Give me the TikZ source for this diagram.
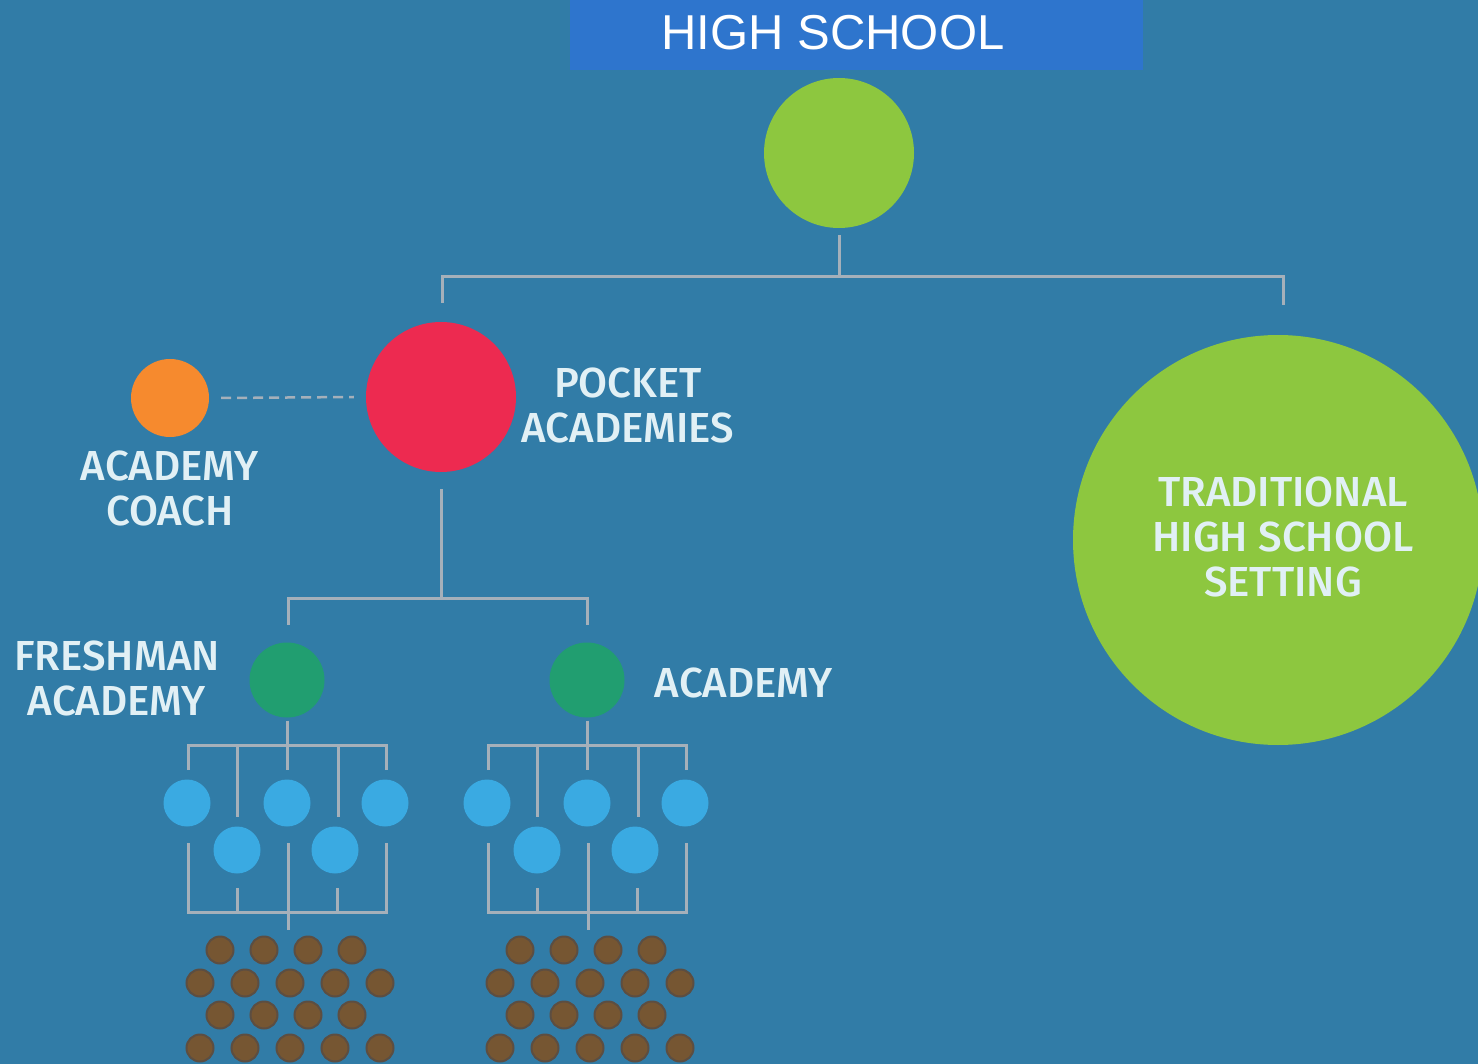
\documentclass[tikz,border=0pt]{standalone}
\usepackage{fontspec}
\setmainfont{Liberation Sans}
\newfontfamily\labfont{Fira Sans Medium}
\definecolor{bg}{RGB}{49,124,167}
\definecolor{banner}{RGB}{46,117,205}
\definecolor{lgreen}{RGB}{141,199,63}
\definecolor{pred}{RGB}{237,42,80}
\definecolor{corange}{RGB}{246,138,46}
\definecolor{teal}{RGB}{33,158,112}
\definecolor{sblue}{RGB}{58,170,226}
\definecolor{brownfill}{RGB}{118,86,50}
\definecolor{brownedge}{RGB}{92,78,66}
\definecolor{linec}{RGB}{165,176,186}
\definecolor{labc}{RGB}{225,240,245}
\tikzset{
  conn/.style={draw=linec, line width=3pt},
  dot/.style={circle, inner sep=0pt, draw=none, minimum size=#1},
  lab/.style={text=labc, align=center, inner sep=0pt, font=\labfont\fontsize{42}{45}\selectfont},
  student/.style={circle, inner sep=0pt, minimum size=27pt, fill=brownfill, draw=brownedge, line width=2pt},
}
\begin{document}
\begin{tikzpicture}[x=1pt,y=-1pt]
\useasboundingbox (0,0) rectangle (1478,1064);
\fill[bg] (0,0) rectangle (1478,1064);
\fill[banner] (570,0) rectangle (1143,70);
\node[text=white, inner sep=0pt, font=\fontsize{49}{49}\selectfont] (title) at (833,33) {HIGH SCHOOL};

% main circles
\node[dot=150pt, fill=lgreen] (hs) at (839,153) {};
\node[dot=150pt, fill=pred] (pa) at (441,397) {};
\node[dot=78pt, fill=corange] (coach) at (170,398) {};
\node[dot=410pt, fill=lgreen] (trad) at (1278,540) {};
\node[dot=75pt, fill=teal] (fa) at (287,680) {};
\node[dot=75pt, fill=teal] (ac) at (587,680) {};

% top bracket
\coordinate (j1) at (839,277);
\coordinate (paT) at (442,303);
\coordinate (trT) at (1283,305);
\draw[conn] ([yshift=-7pt]hs.south) -- (j1);
\draw[conn] (paT) |- (j1) -| (trT);

% dashed link
\draw[draw=linec, line width=2.5pt, dash pattern=on 10pt off 6pt] ([xshift=12pt]coach.east) -- ([xshift=-12pt]pa.west);

% second bracket
\coordinate (j2) at (441,598);
\coordinate (faT) at (288,625);
\coordinate (acT) at (587,625);
\draw[conn] ([yshift=-17pt]pa.south) -- (j2);
\draw[conn] (faT) |- (j2) -| (acT);

% labels
\node[lab] (lpa) at (628,405) {POCKET\\ACADEMIES};
\node[lab] (lco) at (170,488) {ACADEMY\\COACH};
\node[lab] (ltr) at (1283,537) {TRADITIONAL\\HIGH SCHOOL\\SETTING};
\node[lab] (lfa) at (117,678) {FRESHMAN\\ACADEMY};
\node[lab] (lac) at (744,683) {ACADEMY};

% sub-trees
\foreach \ox/\pn in {0/fa,300/ac}{
\begin{scope}[xshift=\ox pt]
  \coordinate (d\ox) at (288,770);
  \draw[conn] ([yshift=-3pt]\pn.south) -- (\pn.south |- d\ox);
  \draw[conn] (188,770) -- (188,745) -- (386,745) -- (386,770);
  \draw[conn] (237,745) -- (237,817);
  \draw[conn] (338,745) -- (338,817);
  \node[dot=47pt, fill=sblue] (b\ox a) at (187,803) {};
  \node[dot=47pt, fill=sblue] (b\ox b) at (287,803) {};
  \node[dot=47pt, fill=sblue] (b\ox c) at (385,803) {};
  \node[dot=47pt, fill=sblue] (b\ox d) at (237,850) {};
  \node[dot=47pt, fill=sblue] (b\ox e) at (335,850) {};
  \draw[conn] (188,843) -- (188,912) -- (386,912) -- (386,843);
  \draw[conn] (237,888) -- (237,912);
  \draw[conn] (337,888) -- (337,912);
  \draw[conn] (288,843) -- (288,930);
  \foreach \y in {950,1015}{
    \foreach \x in {220,264,308,352}{
      \node[student] at (\x,\y) {};
    }
  }
  \foreach \y in {983,1048}{
    \foreach \x in {200,245,290,335,380}{
      \node[student] at (\x,\y) {};
    }
  }
\end{scope}
}
\end{tikzpicture}
\end{document}
